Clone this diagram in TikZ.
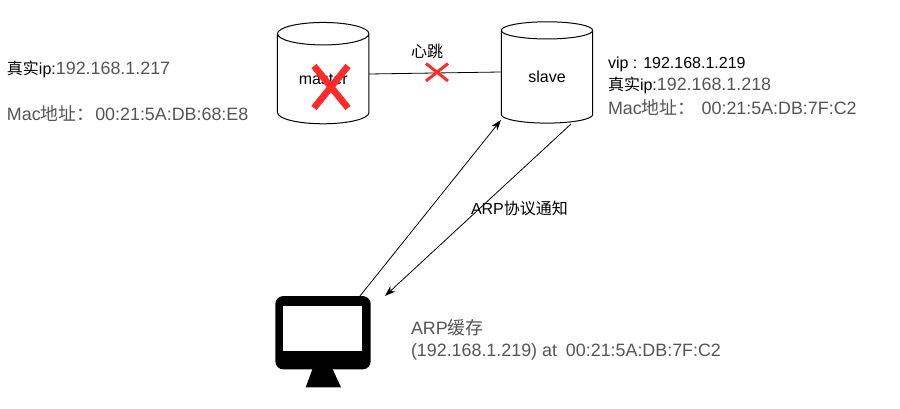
\documentclass[tikz,border=0pt]{standalone}
\usepackage{fontspec}
\setmainfont{Liberation Sans}
\newfontfamily\cjkf{Noto Sans CJK SC}
\newcommand{\zh}[1]{{\cjkf #1}}
\usetikzlibrary{shapes.geometric,arrows.meta}
\definecolor{greytxt}{HTML}{555555}
\definecolor{xred}{HTML}{FF2A2A}
\tikzset{
  db/.style={cylinder,shape border rotate=90,draw=black,line width=0.75pt,aspect=0.46,minimum width=68.6pt,minimum height=76pt,inner sep=0pt,outer sep=0pt,fill=white,font=\fontsize{12pt}{14pt}\selectfont},
  small/.style={anchor=base west,inner sep=0pt,outer sep=0pt,font=\fontsize{12pt}{14pt}\selectfont},
  big/.style={anchor=base west,inner sep=0pt,outer sep=0pt,text=greytxt,font=\fontsize{13.4pt}{16pt}\selectfont},
  link/.style={line width=0.6pt,draw=black},
  arrow/.style={link,-{Stealth[length=8pt,width=5.5pt]}},
  bigx/.style={draw=xred,line width=5pt},
  smallx/.style={draw=xred,line width=2.2pt},
}
\begin{document}
\begin{tikzpicture}[x=0.75pt,y=-0.75pt]
\useasboundingbox (0,0) rectangle (900,409);
\fill[white] (0,0) rectangle (900,409);
% monitor
\node[draw=none,fill=black,rounded corners=6pt,minimum width=71.5pt,minimum height=55pt,inner sep=0pt,outer sep=0pt] (mon) at (323,332.7) {};
\node[fill=white,minimum width=59.2pt,minimum height=34.3pt,inner sep=0pt,outer sep=0pt] (screen) at (322.8,328.4) {};
\fill[black] (312.5,369) -- (332.5,369) -- (341,387.3) -- (305.7,387.3) -- cycle;
% databases
\node[db] (master) at (323.2,79) {master};
\node[db] (slave) at (547,77) {slave};
\coordinate (mE) at (369,74);
\coordinate (sW) at (501,72);
\coordinate (sBl) at (501,120);
\coordinate (sBr) at (571,124);
\coordinate (mTop) at (360,296);
\coordinate (mRight) at (385,296);
\draw[link] (mE) -- (sW);
\draw[arrow] (mTop) -- (sBl);
\draw[arrow] (sBr) -- (mRight);
% crosses
\draw[bigx] (314,66) -- (348,108);
\draw[bigx] (348,66) -- (314,108);
\draw[smallx] (426,63.5) -- (448,81);
\draw[smallx] (448,63.5) -- (426,81);
% labels
\node[small] (hb) at (411,58) {\zh{心跳}};
\node[small] (arp) at (471,215) {ARP\zh{协议通知}};
\node[big] (lip) at (7,75) {\fontsize{12pt}{14pt}\selectfont\textcolor{black}{\zh{真实}ip:}\fontsize{13.4pt}{16pt}\selectfont 192.168.1.217};
\node[big] (lmac) at (7,121) {Mac\zh{地址：}\kern-3pt\ 00:21:5A:DB:68:E8};
\node[small] (vip) at (608,68.5) {vip : 192.168.1.219};
\node[big] (rip) at (608,91) {\fontsize{12pt}{14pt}\selectfont\textcolor{black}{\zh{真实}ip:}\fontsize{13.4pt}{16pt}\selectfont 192.168.1.218};
\node[big] (rmac) at (608,114.5) {Mac\zh{地址：}\kern-2.7pt\ \ 00:21:5A:DB:7F:C2};
\node[big] (c1) at (411,335) {ARP\zh{缓存}};
\node[big] (c2) at (411,356.5) {(192.168.1.219) at\kern-0.7pt\ \ 00:21:5A:DB:7F:C2};
\end{tikzpicture}
\end{document}
